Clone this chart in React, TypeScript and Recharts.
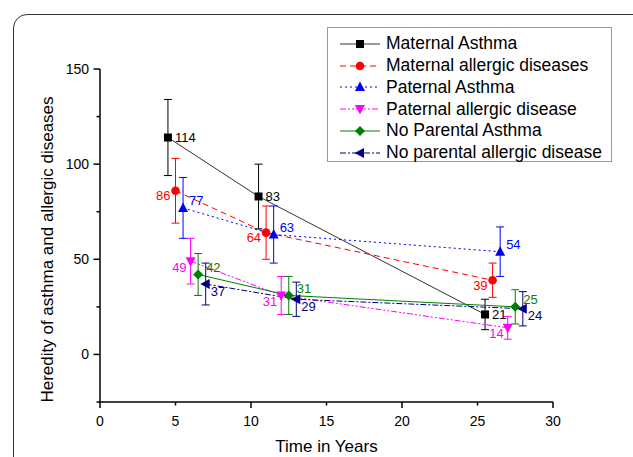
import React from "react";
import { LineChart, Line, XAxis, YAxis, ErrorBar, Legend, Label } from "recharts";

// series names, in legend order
const seriesNames = [
  "Maternal Asthma",
  "Maternal allergic diseases",
  "Paternal Asthma",
  "Paternal allergic disease",
  "No Parental Asthma",
  "No parental allergic disease",
];

// x = time in years, y = heredity value, err = +/- error bar
const maternalAsthmaYears = [4.5, 10.5, 25.5];
const maternalAsthmaValues = [114, 83, 21];
const maternalAsthmaErrors = [20, 17, 8];

const maternalAllergicYears = [5, 11, 26];
const maternalAllergicValues = [86, 64, 39];
const maternalAllergicErrors = [17, 14, 9];

const paternalAsthmaYears = [5.5, 11.5, 26.5];
const paternalAsthmaValues = [77, 63, 54];
const paternalAsthmaErrors = [16, 15, 13];

const paternalAllergicYears = [6, 12, 27];
const paternalAllergicValues = [49, 31, 14];
const paternalAllergicErrors = [12, 10, 6];

const noParentalAsthmaYears = [6.5, 12.5, 27.5];
const noParentalAsthmaValues = [42, 31, 25];
const noParentalAsthmaErrors = [11, 10, 9];

const noParentalAllergicYears = [7, 13, 28];
const noParentalAllergicValues = [37, 29, 24];
const noParentalAllergicErrors = [11, 9, 9];

const xTicks = [0, 5, 10, 15, 20, 25, 30];
const xMajor = [0, 10, 20, 30];
const yTicks = [-25, 0, 25, 50, 75, 100, 125, 150];
const yMajor = [0, 50, 100, 150];

const toRows = (xs: number[], ys: number[], errs: number[]) =>
  xs.map((x, i) => ({ x, y: ys[i], err: errs[i] }));

const seriesData = [
  toRows(maternalAsthmaYears, maternalAsthmaValues, maternalAsthmaErrors),
  toRows(maternalAllergicYears, maternalAllergicValues, maternalAllergicErrors),
  toRows(paternalAsthmaYears, paternalAsthmaValues, paternalAsthmaErrors),
  toRows(paternalAllergicYears, paternalAllergicValues, paternalAllergicErrors),
  toRows(noParentalAsthmaYears, noParentalAsthmaValues, noParentalAsthmaErrors),
  toRows(noParentalAllergicYears, noParentalAllergicValues, noParentalAllergicErrors),
];

type Shape = "square" | "circle" | "up" | "down" | "diamond" | "left";

const seriesStyles: {
  color: string;
  lineColor: string;
  dash?: string;
  shape: Shape;
  dx: number;
  dy: number;
  anchor: "start" | "end";
}[] = [
  { color: "#000000", lineColor: "#333333", shape: "square", dx: 7, dy: 0, anchor: "start" },
  { color: "#ff0000", lineColor: "#ff0000", dash: "6 4", shape: "circle", dx: -5, dy: 5, anchor: "end" },
  { color: "#0000ff", lineColor: "#0000ff", dash: "2 3", shape: "up", dx: 6, dy: -7, anchor: "start" },
  { color: "#ff00ff", lineColor: "#ff00ff", dash: "6 2 2 2 2 2", shape: "down", dx: -4, dy: 6, anchor: "end" },
  { color: "#008000", lineColor: "#008000", shape: "diamond", dx: 8, dy: -7, anchor: "start" },
  { color: "#000080", lineColor: "#000080", dash: "6 2 2 2", shape: "left", dx: 5, dy: 7, anchor: "start" },
];

const FONT = "'Liberation Sans', Arial, sans-serif";

function Marker({ shape, cx, cy, color }: { shape: Shape; cx: number; cy: number; color: string }) {
  switch (shape) {
    case "square":
      return <rect x={cx - 4} y={cy - 4} width={8} height={8} fill={color} />;
    case "circle":
      return <circle cx={cx} cy={cy} r={4.3} fill={color} />;
    case "up":
      return <polygon points={`${cx},${cy - 5.5} ${cx - 5},${cy + 4} ${cx + 5},${cy + 4}`} fill={color} />;
    case "down":
      return <polygon points={`${cx},${cy + 5.5} ${cx - 5},${cy - 4} ${cx + 5},${cy - 4}`} fill={color} />;
    case "diamond":
      return <polygon points={`${cx},${cy - 5} ${cx + 5},${cy} ${cx},${cy + 5} ${cx - 5},${cy}`} fill={color} />;
    case "left":
      return <polygon points={`${cx - 5.5},${cy} ${cx + 4},${cy - 5} ${cx + 4},${cy + 5}`} fill={color} />;
  }
  return null;
}

// x ticks: longer marks on majors, all labelled
function XTick(props: any) {
  const { x, y, payload } = props;
  const len = xMajor.includes(payload.value) ? 6 : 3.5;
  return (
    <g>
      <line x1={x} y1={y} x2={x} y2={y + len} stroke="#000" strokeWidth={1.5} />
      <text x={x} y={y + 24} textAnchor="middle" fill="#000" fontSize={14} fontFamily={FONT}>
        {payload.value}
      </text>
    </g>
  );
}

// y ticks: labels only on majors
function YTick(props: any) {
  const { x, y, payload } = props;
  const major = yMajor.includes(payload.value);
  return (
    <g>
      <line x1={x - (major ? 6.5 : 3.5)} y1={y} x2={x} y2={y} stroke="#000" strokeWidth={1.5} />
      {major && (
        <text x={x - 11} y={y} textAnchor="end" dominantBaseline="central" fill="#000" fontSize={14} fontFamily={FONT}>
          {payload.value}
        </text>
      )}
    </g>
  );
}

function XTitle(props: any) {
  const { viewBox } = props;
  return (
    <text
      x={viewBox.x + viewBox.width / 2}
      y={viewBox.y + 50}
      textAnchor="middle"
      fill="#000"
      fontSize={17}
      fontFamily={FONT}
    >
      Time in Years
    </text>
  );
}

function YTitle(props: any) {
  const { viewBox } = props;
  const cx = viewBox.x + 17;
  const cy = viewBox.y + viewBox.height / 2 + 14;
  return (
    <text
      x={cx}
      y={cy}
      transform={`rotate(-90 ${cx} ${cy})`}
      textAnchor="middle"
      dominantBaseline="central"
      fill="#000"
      fontSize={17}
      fontFamily={FONT}
    >
      Heredity of asthma and allergic diseases
    </text>
  );
}

function renderLegend() {
  return (
    <div
      style={{
        border: "1px solid #999",
        background: "#fff",
        boxSizing: "border-box",
        width: 285,
        height: 135,
        paddingTop: 5,
        fontFamily: FONT,
        fontSize: 17.5,
        lineHeight: 1,
      }}
    >
      {seriesNames.map((name, i) => {
        const s = seriesStyles[i];
        return (
          <div key={name} style={{ display: "flex", alignItems: "center", height: 21.8 }}>
            <svg width={58} height={16} style={{ flex: "none" }}>
              <line x1={12} y1={8} x2={52} y2={8} stroke={s.lineColor} strokeWidth={1} strokeDasharray={s.dash} />
              <Marker shape={s.shape} cx={32} cy={8} color={s.color} />
            </svg>
            <span style={{ color: "#000", whiteSpace: "nowrap" }}>{name}</span>
          </div>
        );
      })}
    </div>
  );
}

export default function App() {
  return (
    <div style={{ position: "absolute", left: 0, top: 0, width: 633, height: 457, overflow: "hidden", background: "#fff" }}>
      <div
        style={{
          position: "absolute",
          left: 13,
          top: 14,
          width: 660,
          height: 480,
          border: "1.5px solid #333",
          borderRadius: 14,
        }}
      />
      <LineChart
        width={633}
        height={457}
        margin={{ top: 69, right: 80, bottom: 5, left: 30 }}
        style={{ fontFamily: FONT }}
      >
        <XAxis
          type="number"
          dataKey="x"
          domain={[0, 30]}
          ticks={xTicks}
          interval={0}
          height={50}
          tickSize={0}
          tickMargin={0}
          tickLine={false}
          axisLine={{ stroke: "#000", strokeWidth: 1.5 }}
          tick={<XTick />}
        >
          <Label content={<XTitle />} />
        </XAxis>
        <YAxis
          type="number"
          dataKey="y"
          domain={[-25, 150]}
          ticks={yTicks}
          interval={0}
          width={70}
          tickSize={0}
          tickMargin={0}
          tickLine={false}
          axisLine={{ stroke: "#000", strokeWidth: 1.5 }}
          tick={<YTick />}
        >
          <Label content={<YTitle />} />
        </YAxis>
        <Legend
          layout="vertical"
          align="center"
          verticalAlign="middle"
          content={renderLegend}
          wrapperStyle={{ left: 327, top: 27, width: 285, height: 135 }}
        />
        {seriesData.map((rows, i) => {
          const s = seriesStyles[i];
          return (
            <Line
              key={seriesNames[i]}
              name={seriesNames[i]}
              data={rows}
              dataKey="y"
              type="linear"
              stroke={s.lineColor}
              strokeWidth={1}
              strokeDasharray={s.dash}
              isAnimationActive={false}
              activeDot={false}
              dot={(props: any) => (
                <g key={`${i}-${props.index}`}>
                  <Marker shape={s.shape} cx={props.cx} cy={props.cy} color={s.color} />
                  <text
                    x={props.cx + s.dx}
                    y={props.cy + s.dy}
                    textAnchor={s.anchor}
                    dominantBaseline="central"
                    fill={s.color}
                    fontSize={13}
                    fontFamily={FONT}
                  >
                    {props.payload.y}
                  </text>
                </g>
              )}
            >
              <ErrorBar dataKey="err" direction="y" width={4} stroke={s.color} strokeWidth={1} />
            </Line>
          );
        })}
      </LineChart>
    </div>
  );
}
